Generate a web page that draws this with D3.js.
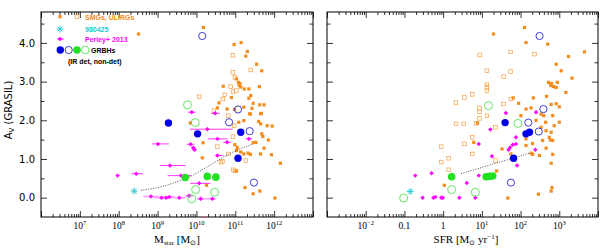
<!DOCTYPE html>
<html><head><meta charset="utf-8">
<script src="https://cdn.jsdelivr.net/npm/d3@7"></script>
<style>body{margin:0;background:#fff}svg{display:block}</style>
</head><body><svg id="c" width="600" height="249"></svg>
<script>
// ---------- data (log10 x values, A_V) ----------
const avMajorTicks=[0,1,2,3,4];
const avMinorTicks=[0.5,1.5,2.5,3.5,4.5];
const avTickLabels=["0.0","1.0","2.0","3.0","4.0"];
const massTickExp=[7,8,9,10,11,12];
const sfrTickExp=[-2,-1,0,1,2,3];
const sfrTickLabels=[["10","−2"],["0.1",""],["1",""],["10","1"],["10","2"],["10","3"]];

const smgFilledMass=[[8.51,4.23],[10.18,4.40],[10.97,3.96],[11.15,4.01],[11.31,3.78],[11.27,3.66],[11.55,3.45],[11.68,3.28],[11.03,3.07],[11.08,2.98],[11.12,2.95],[11.10,2.90],[11.14,2.86],[10.69,2.88],[11.62,2.87],[11.23,2.81],[11.35,2.81],[11.40,2.64],[11.35,2.57],[10.90,2.59],[10.58,2.45],[11.46,2.44],[11.63,2.40],[11.74,2.40],[11.22,2.34],[11.43,2.31],[10.79,2.29],[10.98,2.28],[10.54,2.32],[11.37,2.17],[11.65,2.17],[11.39,2.16],[11.67,2.18],[11.09,1.95],[11.22,1.99],[11.60,1.97],[11.65,1.91],[11.82,1.86],[11.95,1.85],[9.84,1.93],[11.68,1.65],[11.71,1.58],[11.85,1.49],[11.53,1.43],[10.99,1.37],[11.05,1.30],[11.03,1.22],[10.17,1.42],[11.14,1.18],[11.22,1.13],[11.33,1.15],[11.39,1.12],[11.46,1.42],[11.65,1.13],[11.74,1.28],[11.93,1.11],[10.15,1.03],[12.16,0.89],[11.03,0.69],[10.26,0.32],[11.25,0.26],[11.63,0.17],[11.46,0.10],[12.02,-0.01]];
const smgOpenMass=[[10.94,3.68],[11.40,3.30],[10.94,3.24],[10.99,3.11],[10.88,2.87],[11.03,2.77],[10.94,2.74],[10.73,2.66],[10.68,2.55],[10.07,2.61],[10.45,2.25],[10.82,2.12],[10.97,1.86],[10.94,1.58],[10.54,1.32],[10.82,1.13],[10.67,0.94],[10.63,0.92],[11.27,0.96],[10.95,0.72],[10.99,0.69]];
// [logM, Av, err low (dex), err high (dex)]
const perleyMass=[[9.88,2.21,0.1,0.1],[10.48,2.18,0.1,0.12],[10.28,1.77,0.45,0.65],[9.01,1.39,0.15,0.28],[9.85,1.38,0.1,0.1],[9.92,1.29,0.05,0.05],[9.95,1.24,0.05,0.05],[10.54,1.52,0.25,0.25],[10.79,1.43,0.1,0.1],[11.35,1.52,0.08,0.08],[10.54,1.09,0.05,0.15],[9.32,0.83,0.25,0.4],[7.97,0.57,0,0],[8.45,0.62,0.12,0.18],[9.60,0.57,0.34,0.26],[10.07,0.37,0.23,0.29],[8.83,0.03,0.2,0.2],[9.10,0.0,0.2,0.2],[9.22,0.0,0.15,0.15],[9.30,0.02,0.15,0.15],[9.56,0.0,0.15,0.15],[9.81,0.05,0.1,0.1],[10.11,-0.03,0.1,0.15],[10.41,-0.03,0.15,0.1]];
const grbBlueDetMass=[[9.28,1.93],[10.03,1.65],[11.14,1.69],[11.07,1.02]];
const grbBlueNonDetMass=[[10.15,4.18],[11.07,2.28],[10.84,1.95],[11.37,1.72],[11.48,0.39]];
const grbGreenDetMass=[[9.71,0.52],[10.28,0.55],[10.50,0.53]];
const grbGreenNonDetMass=[[9.77,2.40],[9.97,1.94],[9.98,0.21],[10.47,0.14],[9.88,-0.03]];
const grb980425Mass=[[8.40,0.17]];
const fitMass=[[8.57,0.19],[9.04,0.27],[9.47,0.40],[9.81,0.53],[10.33,0.83],[10.84,1.13],[11.46,1.39]];

const smgFilledSfr=[[1.30,4.23],[2.10,4.40],[2.14,4.01],[2.70,3.97],[3.24,3.65],[3.65,3.77],[2.92,3.45],[3.05,3.28],[3.33,3.09],[2.72,2.98],[2.80,2.95],[2.95,2.98],[2.78,2.90],[2.85,2.87],[2.92,2.85],[3.17,2.72],[1.81,2.58],[2.33,2.58],[2.67,2.62],[1.95,2.44],[2.92,2.43],[3.00,2.35],[2.79,2.41],[2.14,2.29],[2.27,2.32],[2.01,2.12],[2.53,2.16],[2.60,2.12],[2.83,2.12],[0.89,1.93],[2.53,1.82],[2.66,1.73],[2.79,1.69],[2.87,1.86],[2.74,1.56],[2.83,1.48],[2.14,1.52],[2.14,1.35],[2.31,1.40],[2.57,1.48],[2.77,1.49],[0.79,1.43],[1.52,1.26],[1.75,1.13],[2.27,1.15],[2.31,1.12],[2.49,1.09],[2.66,1.28],[2.83,1.12],[2.79,0.89],[1.38,0.69],[0.03,0.32],[2.46,0.09],[2.79,0.17],[2.81,0.26],[1.67,-0.01],[2.40,2.00],[2.65,1.95],[3.00,1.95]];
const smgOpenSfr=[[0.94,3.69],[1.74,3.77],[2.36,3.71],[1.13,3.28],[1.74,3.26],[1.56,3.13],[1.13,2.92],[1.13,2.85],[1.13,2.77],[0.75,2.67],[0.55,2.59],[0.33,2.46],[1.75,2.55],[1.56,2.42],[0.94,2.32],[0.94,2.22],[0.94,2.05],[1.13,2.12],[0.33,1.91],[0.53,1.91],[0.85,1.92],[1.35,1.82],[-0.05,1.32],[0.55,1.39],[0.75,1.56],[0.75,1.13],[0.14,1.02],[-0.05,0.92],[0.14,0.72],[1.35,0.96]];
const perleySfr=[[1.62,2.19],[2.40,2.21],[1.22,1.76],[1.88,1.56],[1.88,1.39],[1.80,1.37],[1.73,1.30],[1.69,1.24],[2.38,1.24],[0.92,1.39],[1.26,1.07],[1.91,0.83],[-0.72,0.57],[-0.30,0.63],[0.92,0.57],[0.61,0.38],[-0.53,0],[-0.25,0],[-0.20,0.02],[-0.05,0],[-0.01,0],[0.42,0],[0.83,0]];
const grbBlueDetSfr=[[1.60,1.94],[2.14,1.65],[2.23,1.69],[1.82,1.02]];
const grbBlueNonDetSfr=[[2.49,4.18],[2.59,2.29],[2.20,1.94],[2.47,1.71],[1.75,0.39]];
const grbGreenDetSfr=[[0.22,0.54],[1.11,0.54],[1.19,0.55],[1.28,0.56]];
const grbGreenNonDetSfr=[[1.17,2.38],[1.93,1.92],[0.22,0.21],[0.83,0.14],[-1.02,-0.01]];
const grb980425Sfr=[[-0.85,0.16]];
const fitSfr=[[0.46,0.62],[2.23,1.15]];

// ---------- styles ----------
const C={orange:"#f28c1c",orangeOpen:"#f5a040",magenta:"#ff00ff",magentaPale:"#ff9cff",blue:"#0000e6",blueOpen:"#2a2ad0",green:"#22e022",greenOpen:"#40dd40",cyan:"#20c8d0"};
const svg=d3.select("#c");
const y=d3.scaleLinear().domain([-0.5,4.8]).range([217,12]);
const xMass=d3.scaleLog().domain([1e6,1e13]).range([41,313]);
const xSfr=d3.scaleLog().domain([1e-3,1e4]).range([327,598]);
const diamond=d3.symbol(d3.symbolSquare,10);

function minorLog(lo,hi){const a=[];for(let d=lo;d<hi;d++)for(let k=2;k<=9;k++)a.push(k*Math.pow(10,d));return a;}

function frame(x,decLo,decHi){
  const [x0,x1]=x.range(),[y0,y1]=[y.range()[1],y.range()[0]];
  const g=svg.append("g");
  const majors=d3.range(decLo,decHi+1).map(d=>Math.pow(10,d));
  const minors=minorLog(decLo,decHi);
  const add=(axis,tr)=>{const a=g.append("g").attr("transform",tr).call(axis);a.select(".domain").remove();a.selectAll("line").attr("stroke","#000").attr("stroke-width",0.8);a.selectAll("text").remove();};
  add(d3.axisBottom(x).tickValues(majors).tickSize(-6).tickFormat(""),`translate(0,${y1})`);
  add(d3.axisBottom(x).tickValues(minors).tickSize(-3).tickFormat(""),`translate(0,${y1})`);
  add(d3.axisTop(x).tickValues(majors).tickSize(-6).tickFormat(""),`translate(0,${y0})`);
  add(d3.axisTop(x).tickValues(minors).tickSize(-3).tickFormat(""),`translate(0,${y0})`);
  add(d3.axisLeft(y).tickValues(avMajorTicks).tickSize(-6).tickFormat(""),`translate(${x0},0)`);
  add(d3.axisLeft(y).tickValues(avMinorTicks).tickSize(-3.5).tickFormat(""),`translate(${x0},0)`);
  add(d3.axisRight(y).tickValues(avMajorTicks).tickSize(-6).tickFormat(""),`translate(${x1},0)`);
  add(d3.axisRight(y).tickValues(avMinorTicks).tickSize(-3.5).tickFormat(""),`translate(${x1},0)`);
  g.append("rect").attr("x",x0).attr("y",y0).attr("width",x1-x0).attr("height",y1-y0).attr("fill","none").attr("stroke","#000").attr("stroke-width",1);
}

function xLabels(x,exps,labels){
  exps.forEach((e,i)=>{
    const t=svg.append("text").attr("x",x(Math.pow(10,e))).attr("y",229).attr("text-anchor","middle")
      .attr("font-family","Liberation Serif").attr("font-size",9.5).attr("fill","#000");
    t.append("tspan").text(labels[i][0]);
    if(labels[i][1]) t.append("tspan").attr("font-size",6.5).attr("dy",-4).text(labels[i][1]);
  });
}

function asterisk(g,cx,cy,r){
  [0,45,90,135].forEach(a=>{const t=a*Math.PI/180;
    g.append("line").attr("x1",cx-r*Math.cos(t)).attr("y1",cy-r*Math.sin(t)).attr("x2",cx+r*Math.cos(t)).attr("y2",cy+r*Math.sin(t)).attr("stroke",C.cyan).attr("stroke-width",0.9);});
}

function drawPanel(x,s){
  const P=d=>[x(Math.pow(10,d[0])),y(d[1])];
  const g=svg.append("g");
  g.selectAll(null).data(s.smgOpen).join("rect").attr("x",d=>P(d)[0]-1.8).attr("y",d=>P(d)[1]-1.8).attr("width",3.6).attr("height",3.6).attr("fill","none").attr("stroke",C.orangeOpen).attr("stroke-width",0.7);
  g.selectAll(null).data(s.smgFilled).join("rect").attr("x",d=>P(d)[0]-1.6).attr("y",d=>P(d)[1]-1.6).attr("width",3.2).attr("height",3.2).attr("fill",C.orange);
  if(s.perleyErr){
    g.selectAll(null).data(s.perley).join("line")
      .attr("x1",d=>x(Math.pow(10,d[0]-d[2]))).attr("x2",d=>x(Math.pow(10,d[0]+d[3])))
      .attr("y1",d=>y(d[1])).attr("y2",d=>y(d[1])).attr("stroke",d=>d[1]<0.1?C.magentaPale:C.magenta).attr("stroke-width",d=>d[1]<0.1?1.6:0.8);
  }
  g.selectAll(null).data(s.perley).join("path").attr("transform",d=>`translate(${P(d)}) rotate(45)`).attr("d",diamond).attr("fill",C.magenta);
  g.append("path").datum(s.fit).attr("d",d3.line().x(d=>P(d)[0]).y(d=>P(d)[1]).curve(d3.curveMonotoneX)).attr("fill","none").attr("stroke","#222").attr("stroke-width",0.8).attr("stroke-dasharray","1,1.5");
  g.selectAll(null).data(s.greenNon).join("circle").attr("cx",d=>P(d)[0]).attr("cy",d=>P(d)[1]).attr("r",4).attr("fill","none").attr("stroke",C.greenOpen).attr("stroke-width",0.8);
  g.selectAll(null).data(s.greenDet).join("circle").attr("cx",d=>P(d)[0]).attr("cy",d=>P(d)[1]).attr("r",3.8).attr("fill",C.green);
  g.selectAll(null).data(s.blueNon).join("circle").attr("cx",d=>P(d)[0]).attr("cy",d=>P(d)[1]).attr("r",3.6).attr("fill","none").attr("stroke",C.blueOpen).attr("stroke-width",0.9);
  g.selectAll(null).data(s.blueDet).join("circle").attr("cx",d=>P(d)[0]).attr("cy",d=>P(d)[1]).attr("r",3.7).attr("fill",C.blue);
  s.cyan.forEach(d=>asterisk(g,P(d)[0],P(d)[1],3.5));
}

drawPanel(xMass,{smgOpen:smgOpenMass,smgFilled:smgFilledMass,perley:perleyMass,perleyErr:true,fit:fitMass,greenNon:grbGreenNonDetMass,greenDet:grbGreenDetMass,blueNon:grbBlueNonDetMass,blueDet:grbBlueDetMass,cyan:grb980425Mass});
drawPanel(xSfr,{smgOpen:smgOpenSfr,smgFilled:smgFilledSfr,perley:perleySfr,perleyErr:false,fit:fitSfr,greenNon:grbGreenNonDetSfr,greenDet:grbGreenDetSfr,blueNon:grbBlueNonDetSfr,blueDet:grbBlueDetSfr,cyan:grb980425Sfr});
frame(xMass,6,13);
frame(xSfr,-3,4);

// tick labels
xLabels(xMass,massTickExp,massTickExp.map(e=>["10",String(e)]));
xLabels(xSfr,sfrTickExp,sfrTickLabels);
avMajorTicks.forEach((v,i)=>svg.append("text").attr("x",35).attr("y",y(v)+3.6).attr("text-anchor","end").attr("font-family","DejaVu Sans").attr("font-size",10).text(avTickLabels[i]));

// axis titles
const xt1=svg.append("text").attr("x",177).attr("y",243).attr("text-anchor","middle").attr("font-family","Liberation Serif").attr("font-size",11);
xt1.append("tspan").text("M");xt1.append("tspan").attr("font-size",7).attr("dy",2).text("star");
xt1.append("tspan").attr("dy",-2).text(" [M");xt1.append("tspan").attr("font-size",7).attr("dy",2).text("⊙");xt1.append("tspan").attr("dy",-2).text("]");
const xt2=svg.append("text").attr("x",466).attr("y",243).attr("text-anchor","middle").attr("font-family","Liberation Serif").attr("font-size",11);
xt2.append("tspan").text("SFR [M");xt2.append("tspan").attr("font-size",7).attr("dy",2).text("⊙");
xt2.append("tspan").attr("dy",-2).text(" yr");xt2.append("tspan").attr("font-size",7).attr("dy",-4).text("−1");xt2.append("tspan").attr("dy",4).text("]");
const yt=svg.append("text").attr("transform","translate(12,110) rotate(-90)").attr("text-anchor","middle").attr("font-family","DejaVu Sans").attr("font-size",10);
yt.append("tspan").text("A");yt.append("tspan").attr("font-size",7).attr("dy",2).text("V");yt.append("tspan").attr("dy",-2).text(" (GRASIL)");

// legend
const lg=svg.append("g").attr("font-family","Liberation Sans").attr("font-size",7).attr("font-weight","bold");
lg.append("rect").attr("x",58.4).attr("y",15.1).attr("width",3.2).attr("height",3.2).attr("fill",C.orange);
lg.append("rect").attr("x",75.2).attr("y",14.9).attr("width",3.6).attr("height",3.6).attr("fill","none").attr("stroke",C.orangeOpen).attr("stroke-width",0.7);
lg.append("text").attr("x",85).attr("y",19.5).attr("fill",C.orange).text("SMGs, ULIRGs");
asterisk(lg,60,29,3.5);
lg.append("text").attr("x",85).attr("y",31.6).attr("fill",C.cyan).text("980425");
lg.append("line").attr("x1",57).attr("x2",64).attr("y1",39).attr("y2",39).attr("stroke",C.magenta).attr("stroke-width",0.8);
lg.append("path").attr("transform","translate(60,39) rotate(45)").attr("d",diamond).attr("fill",C.magenta);
lg.append("text").attr("x",85).attr("y",41.6).attr("fill",C.magenta).text("Perley+ 2013");
lg.append("circle").attr("cx",60.3).attr("cy",50).attr("r",3.7).attr("fill",C.blue);
lg.append("circle").attr("cx",68.7).attr("cy",50).attr("r",3.6).attr("fill","none").attr("stroke",C.blueOpen).attr("stroke-width",0.9);
lg.append("circle").attr("cx",77).attr("cy",50).attr("r",3.8).attr("fill",C.green);
lg.append("circle").attr("cx",85.2).attr("cy",50).attr("r",3.8).attr("fill","none").attr("stroke",C.greenOpen).attr("stroke-width",0.8);
lg.append("text").attr("x",91).attr("y",52.5).attr("fill","#000").text("GRBHs");
lg.append("text").attr("x",68).attr("y",63.5).attr("fill","#000").text("(IR det, non-det)");
</script></body></html>
